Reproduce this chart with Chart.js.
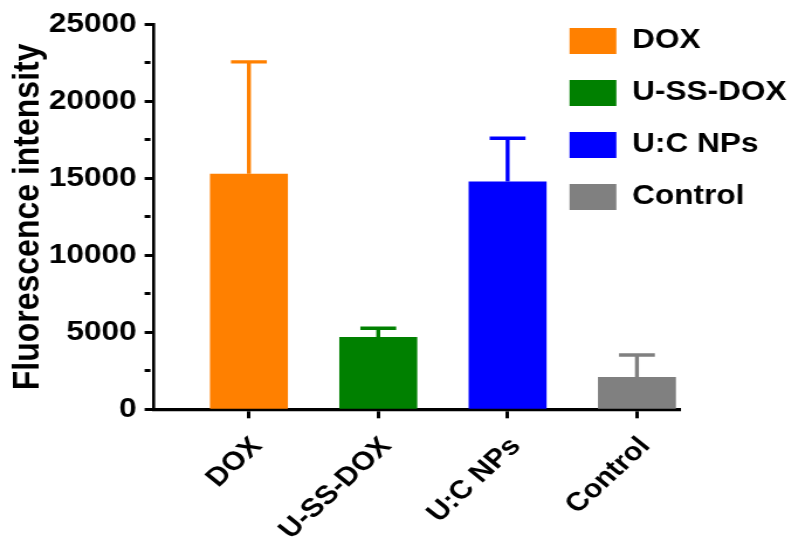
<!DOCTYPE html>
<html>
<head>
<meta charset="utf-8">
<script src="https://cdn.jsdelivr.net/npm/chart.js@4/dist/chart.umd.min.js"></script>
<style>
  html, body { margin: 0; padding: 0; background: #fff; overflow: hidden; }
  /* the figure is drawn at its native aspect and widened to the page width */
  #frame { position: absolute; left: 0; top: 0; width: 682px; height: 546px;
           transform: scaleX(1.17); transform-origin: 0 0; }
</style>
</head>
<body>
<div id="frame"><canvas id="chart"></canvas></div>
<script>
// Groups, mean fluorescence and upper SD
const categories = ['DOX', 'U-SS-DOX', 'U:C NPs', 'Control'];
const intensity  = [15300, 4700, 14800, 2100];
const errorUp    = [7270, 570, 2810, 1430];
const barColors  = ['#ff8000', '#008000', '#0000ff', '#808080'];
const majorTicks = [0, 5000, 10000, 15000, 20000, 25000];

const FONT = "'Liberation Sans', Arial, Helvetica, sans-serif";

// Upper-only error bars in the bar colour
const errorBars = {
  id: 'errorBars',
  afterDatasetsDraw(chart) {
    const { ctx } = chart;
    const y = chart.scales.y;
    const meta = chart.getDatasetMeta(0);
    ctx.save();
    ctx.lineWidth = 3.4;
    ctx.lineCap = 'butt';
    meta.data.forEach((bar, i) => {
      const x = bar.x;
      const yBase = y.getPixelForValue(intensity[i]);
      const yTop = y.getPixelForValue(intensity[i] + errorUp[i]);
      const half = bar.width * 0.23;
      ctx.strokeStyle = barColors[i];
      ctx.beginPath();
      ctx.moveTo(x, yBase);
      ctx.lineTo(x, yTop);
      ctx.moveTo(x - half, yTop);
      ctx.lineTo(x + half, yTop);
      ctx.stroke();
    });
    ctx.restore();
  }
};

// Legend sits in the upper-right corner, over the plot
const legendPlacement = {
  id: 'legendPlacement',
  afterLayout(chart) {
    const lg = chart.legend;
    if (!lg) return;
    const w = lg.width;
    lg.left = 461.8;
    lg.right = lg.left + w;
    lg.top = 2.5;
    lg.bottom = 280;
    lg.height = lg.bottom - lg.top;
  }
};

new Chart(document.getElementById('chart'), {
  type: 'bar',
  data: {
    datasets: [{
      data: intensity.map((v, i) => ({ x: i + 1, y: v })),
      backgroundColor: barColors,
      borderWidth: 0,
      barPercentage: 0.603,
      categoryPercentage: 1
    }]
  },
  options: {
    responsive: true,
    maintainAspectRatio: false,
    animation: false,
    devicePixelRatio: 1,
    layout: { padding: { left: 0, top: 24.5, right: 100.8, bottom: 0 } },
    plugins: {
      tooltip: { enabled: false },
      legend: {
        position: 'chartArea',
        align: 'start',
        labels: {
          boxWidth: 40,
          boxHeight: 26,
          padding: 25,
          color: '#000',
          font: { family: FONT, size: 27, weight: 'bold' },
          generateLabels: () => categories.map((c, i) => ({
            text: c,
            fillStyle: barColors[i],
            strokeStyle: barColors[i],
            lineWidth: 0,
            hidden: false,
            index: i,
            fontColor: '#000'
          }))
        }
      }
    },
    scales: {
      x: {
        type: 'linear',
        min: 0.266,
        max: 4.333,
        bounds: 'data',
        offset: false,
        z: 1,
        afterBuildTicks: (scale) => {
          scale.ticks = categories.map((_, i) => ({ value: i + 1 }));
        },
        afterFit: (scale) => { scale.height = 136.7; },
        grid: {
          offset: false,
          drawOnChartArea: false,
          drawTicks: true,
          tickLength: 9,
          tickWidth: 3,
          tickColor: '#000'
        },
        border: { display: true, color: '#000', width: 3.3 },
        ticks: {
          autoSkip: false,
          minRotation: 47,
          maxRotation: 47,
          padding: 13,
          labelOffset: 7,
          color: '#000',
          font: { family: FONT, size: 26, weight: 'bold' },
          callback: (value, index) => categories[index]
        }
      },
      y: {
        min: 0,
        max: 25000,
        z: 1,
        afterFit: (scale) => { scale.width = 131.6; },
        grid: {
          drawOnChartArea: false,
          drawTicks: true,
          tickLength: 8,
          tickWidth: 3,
          tickColor: '#000',
          tickBorderDash: (ctx) => (ctx.tick && majorTicks.includes(ctx.tick.value)) ? [] : [5, 100]
        },
        border: { display: true, color: '#000', width: 2.6 },
        ticks: {
          stepSize: 2500,
          padding: 6.8,
          color: '#000',
          font: { family: FONT, size: 27, weight: 'bold' },
          callback: (value) => majorTicks.includes(value) ? String(value) : ''
        },
        title: {
          display: true,
          text: 'Fluorescence intensity',
          color: '#000',
          font: { family: FONT, size: 32, weight: 'bold', lineHeight: 1.2 },
          padding: { top: 5, bottom: 0 }
        }
      }
    }
  },
  plugins: [errorBars, legendPlacement]
});
</script>
</body>
</html>
